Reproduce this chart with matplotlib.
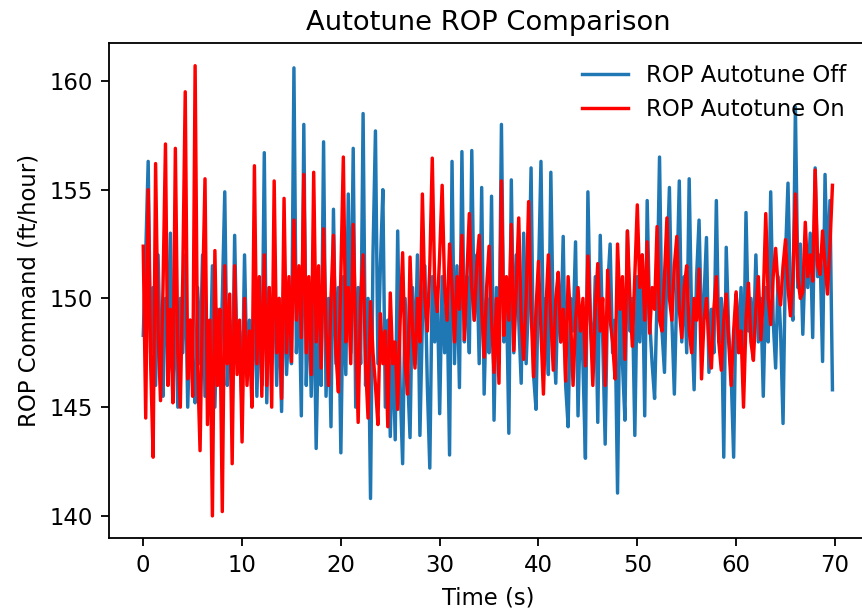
import numpy as np
import matplotlib
matplotlib.use('Agg')
import matplotlib.pyplot as plt

# sample times (s), one reading every 0.25 s
time_s = np.arange(0, 70, 0.25)

rop_off = [
    148.3, 152.0, 156.3, 147.5, 150.5, 146.0, 152.0, 147.0, 145.5, 150.0, 148.0, 153.0, 146.0, 149.5, 145.0, 150.0, 147.5, 152.0, 145.0, 149.0,
    147.0, 145.2, 150.5, 147.0, 152.0, 145.5, 149.0, 146.0, 151.5, 145.0, 149.5, 146.0, 150.0, 154.9, 146.0, 149.0, 145.0, 152.9, 147.0, 148.5,
    145.0, 152.0, 146.5, 149.0, 145.5, 151.0, 145.5, 150.0, 146.0, 156.7, 145.2, 150.5, 147.0, 151.5, 146.0, 150.0, 144.8, 151.5, 146.5, 149.0,
    147.0, 160.6, 147.5, 151.0, 144.6, 158.0, 146.0, 150.5, 145.5, 151.0, 143.1, 149.0, 146.0, 157.2, 145.5, 150.0, 144.1, 154.1, 147.0, 150.5,
    142.9, 151.0, 146.5, 154.8, 147.5, 156.9, 145.0, 150.5, 147.0, 158.5, 146.0, 150.0, 140.8, 152.0, 157.7, 147.0, 151.5, 155.0, 145.0, 149.0,
    143.65, 148.0, 143.5, 153.1, 146.0, 142.4, 150.0, 146.5, 143.6, 150.5, 147.0, 152.0, 143.7, 149.0, 151.5, 146.0, 142.2, 151.0, 148.0, 150.5,
    144.7, 151.0, 147.5, 150.0, 142.8, 156.3, 147.0, 151.5, 145.9, 156.75, 148.0, 151.0, 147.5, 156.8, 149.0, 152.0, 147.0, 155.1, 145.6, 150.0,
    147.5, 154.7, 144.4, 150.5, 147.0, 158.0, 148.0, 150.5, 143.8, 155.45, 147.5, 152.0, 149.0, 146.1, 153.0, 147.0, 150.0, 156.0, 146.5, 144.9,
    151.0, 156.3, 148.0, 150.0, 146.5, 155.8, 148.5, 146.1, 151.0, 148.0, 152.85, 146.0, 144.1, 150.0, 148.5, 152.6, 144.6, 149.5, 147.0, 142.65,
    154.9, 149.0, 147.0, 151.0, 144.3, 152.9, 148.0, 143.3, 150.5, 152.5, 147.5, 149.0, 141.05, 150.5, 147.0, 144.4, 153.1, 148.5, 150.0, 143.7,
    151.0, 148.0, 152.0, 144.6, 154.5, 149.0, 147.0, 145.4, 150.0, 156.5, 148.5, 146.6, 151.5, 155.1, 149.0, 145.6, 150.5, 155.4, 148.0, 151.0,
    147.5, 155.5, 149.0, 145.8, 151.0, 153.6, 148.5, 150.0, 152.8, 146.6, 149.5, 147.5, 154.5, 148.0, 150.0, 142.7, 152.35, 148.5, 146.5, 142.7,
    150.2, 148.0, 150.5, 146.5, 153.95, 148.5, 150.0, 147.85, 152.0, 148.0, 150.0, 145.5, 150.5, 148.0, 154.9, 149.0, 146.8, 151.0, 148.5, 144.25,
    152.0, 155.3, 150.0, 149.0, 158.8, 150.5, 152.5, 148.35, 152.0, 150.5, 153.0, 148.2, 156.0, 151.0, 152.0, 147.1, 155.7, 151.0, 154.5, 145.8,
]

rop_on = [
    152.4, 144.5, 155.0, 147.0, 142.7, 156.2, 148.5, 145.3, 150.5, 157.1, 146.0, 149.5, 145.2, 156.9, 147.5, 145.0, 151.0, 159.5, 146.3, 149.0,
    145.5, 160.7, 147.0, 143.0, 150.0, 155.5, 144.2, 149.0, 140.0, 152.2, 146.0, 149.5, 140.2, 151.5, 147.0, 150.2, 142.4, 151.5, 146.5, 149.0,
    143.4, 150.0, 146.0, 148.5, 145.0, 156.1, 147.0, 151.0, 145.5, 152.0, 146.0, 150.5, 145.0, 155.4, 147.5, 150.0, 145.4, 154.6, 147.5, 151.0,
    147.1, 153.6, 149.0, 151.5, 148.2, 155.7, 147.5, 151.0, 146.5, 155.8, 148.0, 151.5, 146.8, 153.2, 148.5, 146.0, 150.0, 152.9, 147.5, 145.7,
    151.0, 156.5, 148.0, 150.5, 147.0, 153.4, 148.5, 144.3, 150.0, 152.0, 147.0, 144.5, 149.85, 147.5, 146.0, 144.2, 149.3, 147.0, 148.5, 144.1,
    150.25, 147.0, 148.0, 144.9, 149.0, 152.1, 147.0, 145.6, 151.9, 148.5, 146.8, 150.0, 148.0, 154.8, 150.0, 148.5, 151.5, 156.45, 150.5, 149.4,
    152.0, 155.2, 150.5, 149.0, 152.5, 150.5, 148.0, 151.0, 149.5, 152.9, 148.1, 151.0, 153.9, 150.5, 149.0, 151.5, 152.9, 149.5, 147.3, 150.5,
    152.4, 149.0, 146.6, 150.0, 146.1, 155.4, 148.3, 151.0, 149.0, 153.4, 147.6, 150.5, 153.7, 149.0, 147.2, 150.0, 154.45, 149.5, 146.4, 149.5,
    151.7, 148.5, 145.6, 149.5, 152.0, 149.0, 146.7, 150.0, 151.2, 148.0, 149.5, 146.2, 151.0, 149.0, 146.0, 149.0, 150.5, 148.5, 150.0, 146.9,
    151.95, 149.0, 146.0, 149.5, 151.6, 148.5, 150.0, 146.0, 151.3, 149.0, 148.0, 146.3, 152.5, 149.5, 151.0, 147.2, 153.1, 150.0, 147.8, 151.0,
    154.3, 150.5, 152.0, 149.0, 152.6, 148.4, 150.5, 149.5, 153.3, 149.0, 148.5, 151.0, 153.7, 150.0, 149.0, 151.5, 152.85, 149.5, 148.2, 150.5,
    151.5, 148.5, 147.5, 150.0, 149.0, 151.35, 146.3, 149.0, 150.0, 148.0, 146.8, 149.5, 151.0, 148.0, 146.7, 149.0, 150.2, 148.0, 146.0, 148.5,
    150.3, 147.5, 148.5, 145.0, 149.0, 150.7, 148.0, 147.15, 149.5, 151.0, 148.1, 150.0, 153.9, 150.0, 148.8, 151.0, 152.3, 150.5, 149.7, 151.5,
    152.7, 150.5, 149.2, 151.0, 154.8, 151.0, 150.0, 150.3, 153.5, 151.0, 152.0, 150.8, 155.9, 151.5, 151.1, 153.1, 151.5, 150.2, 152.5, 155.2,
]

fig = plt.figure(figsize=(862 / 164, 611 / 164), dpi=164)
# the reference is cropped on the right, so the axes run past the figure edge
ax = fig.add_axes([0.1262, 0.1188, 0.8795, 0.8105])

ax.plot(time_s, rop_off, label='ROP Autotune Off')
ax.plot(time_s, rop_on, color='red', label='ROP Autotune On')

ax.set_title('Autotune ROP Comparison')
ax.set_xlabel('Time (s)')
ax.set_ylabel('ROP Command (ft/hour)')
ax.legend(loc='upper right', frameon=False)

fig.savefig('out.png', dpi=164)
plt.close(fig)
